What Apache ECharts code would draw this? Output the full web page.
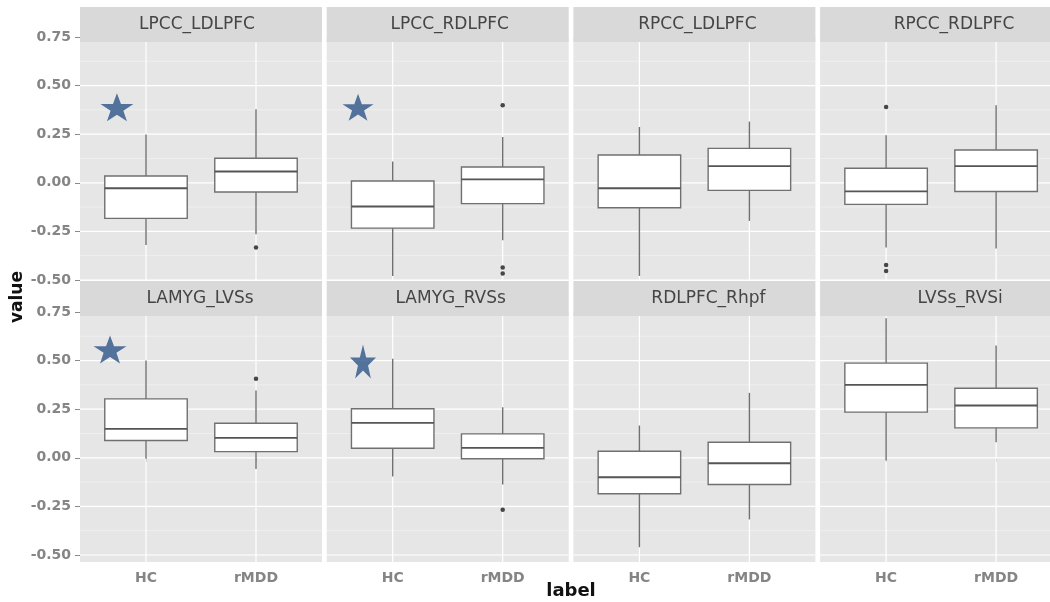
<!DOCTYPE html>
<html>
<head>
<meta charset="utf-8">
<script src="https://cdn.jsdelivr.net/npm/echarts@6/dist/echarts.min.js"></script>
<style>
html,body{margin:0;padding:0;background:#fff;}
#chart{width:1050px;height:602px;}
</style>
</head>
<body>
<div id="chart"></div>
<script>
// ---------------- data ----------------
const panels = ['LPCC_LDLPFC','LPCC_RDLPFC','RPCC_LDLPFC','RPCC_RDLPFC',
                'LAMYG_LVSs','LAMYG_RVSs','RDLPFC_Rhpf','LVSs_RVSi'];
const groups = ['HC','rMDD'];
// [lower whisker, Q1, median, Q3, upper whisker]
const hcBox = [
  [-0.320,-0.183,-0.028, 0.035, 0.249],
  [-0.479,-0.233,-0.122, 0.009, 0.109],
  [-0.479,-0.128,-0.028, 0.143, 0.287],
  [-0.333,-0.111,-0.044, 0.075, 0.244],
  [-0.005, 0.089, 0.149, 0.303, 0.500],
  [-0.096, 0.049, 0.180, 0.252, 0.509],
  [-0.460,-0.185,-0.100, 0.034, 0.166],
  [-0.014, 0.235, 0.375, 0.487, 0.718]
];
const rmddBox = [
  [-0.265,-0.047, 0.058, 0.126, 0.378],
  [-0.296,-0.107, 0.018, 0.081, 0.236],
  [-0.196,-0.039, 0.086, 0.177, 0.315],
  [-0.338,-0.045, 0.086, 0.169, 0.399],
  [-0.057, 0.032, 0.103, 0.178, 0.346],
  [-0.137,-0.005, 0.051, 0.123, 0.260],
  [-0.317,-0.137,-0.028, 0.080, 0.334],
  [ 0.080, 0.154, 0.269, 0.358, 0.578]
];
const hcOutliers   = [[], [], [], [0.390,-0.423,-0.454], [], [], [], []];
const rmddOutliers = [[-0.333], [0.399,-0.436,-0.467], [], [], [0.406], [-0.267], [], []];
// significance stars: panel index, x on the group scale (HC = 1), value
const starPanels = [0, 1, 4, 5];
const starX = [0.736, 0.685, 0.673, 0.730];
const starY = [0.388, 0.388, 0.557, 0.495];
const yTicks = [-0.5, -0.25, 0, 0.25, 0.5, 0.75];
const yMinor = [-0.375, -0.125, 0.125, 0.375, 0.625];
const yTickLabels = ['-0.50','-0.25','0.00','0.25','0.50','0.75'];

// ---------------- layout / style ----------------
const L0 = 80, STEP = 246.7, PW = 242;
const rows = [
  {top: 37,  height: 243, min: -0.5,   max: 0.75, stripY: 7,   stripH: 35},
  {top: 312, height: 250, min: -0.536, max: 0.75, stripY: 281, stripH: 35}
];
const stripDx = [[-4, 2, 3, 13], [-1, 3, 14, 19]];
const starSizes = [[33, 28], [31, 27], [33, 28], [26, 34]];
const BOX_STROKE = '#707070', MED_STROKE = '#555555';
const PANEL_BG = '#e6e6e6', STRIP_BG = '#d9d9d9';
const XMIN = 0.4, XMAX = 2.6;

const grids = [], xAxes = [], yAxes = [], series = [], graphics = [];

panels.forEach((name, i) => {
  const r = Math.floor(i / 4), c = i % 4;
  const row = rows[r];
  const left = L0 + c * STEP;
  grids.push({left: left, top: row.top, width: PW, height: row.height,
    show: true, backgroundColor: PANEL_BG, borderWidth: 0, containLabel: false,
    outerBoundsMode: 'none'});
  xAxes.push({
    type: 'value', gridIndex: i, min: XMIN, max: XMAX,
    axisLine: {show: false}, splitLine: {show: false},
    axisTick: {show: r === 1, customValues: [1, 2], length: 4,
      lineStyle: {color: '#8a8a8a', width: 1}},
    axisLabel: {show: r === 1, customValues: [1, 2], margin: 9,
      formatter: v => groups[Math.round(v) - 1] || '',
      color: '#858585', fontSize: 14, fontWeight: 'bold', fontFamily: 'DejaVu Sans'}
  });
  yAxes.push({
    type: 'value', gridIndex: i, min: row.min, max: row.max,
    axisLine: {show: false}, splitLine: {show: false},
    axisTick: {show: c === 0, customValues: yTicks, length: 5,
      lineStyle: {color: '#8a8a8a', width: 1}},
    axisLabel: {show: c === 0, customValues: yTicks, margin: 9,
      formatter: v => yTickLabels[yTicks.findIndex(t => Math.abs(t - v) < 1e-6)] || '',
      color: '#858585', fontSize: 14, fontWeight: 'bold', fontFamily: 'DejaVu Sans'}
  });

  // grid lines (panel background lines)
  const gl = yTicks.filter(v => v >= row.min && v <= row.max).map(v => [0, v])
    .concat(yMinor.filter(v => v >= row.min && v <= row.max).map(v => [1, v]))
    .concat([[2, 1], [2, 2]]);
  series.push({
    type: 'custom', xAxisIndex: i, yAxisIndex: i, z: 1, silent: true,
    data: gl, encode: {x: -1, y: -1},
    renderItem: (params, api) => {
      const kind = api.value(0), v = api.value(1);
      if (kind === 2) {
        const a = api.coord([v, row.max]), b = api.coord([v, row.min]);
        return {type: 'line', shape: {x1: a[0], y1: a[1], x2: b[0], y2: b[1]},
          style: {stroke: '#ffffff', lineWidth: 1.2}};
      }
      const a = api.coord([XMIN, v]), b = api.coord([XMAX, v]);
      return {type: 'line', shape: {x1: a[0], y1: a[1], x2: b[0], y2: b[1]},
        style: {stroke: kind === 0 ? '#ffffff' : '#f1f1f1', lineWidth: kind === 0 ? 1.2 : 0.8}};
    }
  });

  // boxes
  series.push({
    type: 'custom', xAxisIndex: i, yAxisIndex: i, z: 3, silent: true,
    data: [[1].concat(hcBox[i]), [2].concat(rmddBox[i])],
    encode: {x: 0, y: [1, 2, 3, 4, 5]},
    renderItem: (params, api) => {
      const x = api.value(0);
      const half = api.size([0.75, 0])[0] / 2;
      const lo = api.coord([x, api.value(1)]);
      const q1 = api.coord([x, api.value(2)]);
      const md = api.coord([x, api.value(3)]);
      const q3 = api.coord([x, api.value(4)]);
      const hi = api.coord([x, api.value(5)]);
      const cx = lo[0];
      return {type: 'group', children: [
        {type: 'line', shape: {x1: cx, y1: lo[1], x2: cx, y2: q1[1]}, style: {stroke: BOX_STROKE, lineWidth: 1.4}},
        {type: 'line', shape: {x1: cx, y1: q3[1], x2: cx, y2: hi[1]}, style: {stroke: BOX_STROKE, lineWidth: 1.4}},
        {type: 'rect', shape: {x: cx - half, y: q3[1], width: 2 * half, height: q1[1] - q3[1]},
          style: {fill: '#ffffff', stroke: BOX_STROKE, lineWidth: 1.4}},
        {type: 'line', shape: {x1: cx - half, y1: md[1], x2: cx + half, y2: md[1]},
          style: {stroke: MED_STROKE, lineWidth: 1.8}}
      ]};
    }
  });

  // outliers
  const out = hcOutliers[i].map(v => [1, v]).concat(rmddOutliers[i].map(v => [2, v]));
  if (out.length) {
    series.push({type: 'scatter', xAxisIndex: i, yAxisIndex: i, z: 4, silent: true,
      data: out, symbol: 'circle', symbolSize: 4.5,
      itemStyle: {color: '#1a1a1a'}});
  }

  // star
  const si = starPanels.indexOf(i);
  if (si >= 0) {
    series.push({type: 'scatter', xAxisIndex: i, yAxisIndex: i, z: 5, silent: true,
      data: [[starX[si], starY[si]]],
      symbol: 'path://M50,0 L61.8,35.1 L98.5,35.1 L68.8,56.9 L79.4,92 L50,70.4 L20.6,92 L31.2,56.9 L1.5,35.1 L38.2,35.1 Z',
      symbolSize: starSizes[si], itemStyle: {color: '#2d5488'}});
  }

  // strip
  graphics.push({type: 'rect', z: 100, silent: true,
    shape: {x: left, y: row.stripY, width: PW, height: row.stripH},
    style: {fill: STRIP_BG}});
  graphics.push({type: 'text', z: 101, silent: true,
    x: left + PW / 2 + stripDx[r][c], y: row.stripY + row.stripH / 2,
    style: {text: name, fill: '#454545', font: '17px "DejaVu Sans"',
      textAlign: 'center', textVerticalAlign: 'middle'}});
});

graphics.push({type: 'text', z: 101, silent: true, x: 18, y: 297, rotation: Math.PI / 2,
  style: {text: 'value', fill: '#111', font: 'bold 17px "DejaVu Sans"',
    textAlign: 'center', textVerticalAlign: 'middle'}});
graphics.push({type: 'text', z: 101, silent: true, x: 571, y: 591,
  style: {text: 'label', fill: '#111', font: 'bold 18px "DejaVu Sans"',
    textAlign: 'center', textVerticalAlign: 'middle'}});

const chart = echarts.init(document.getElementById('chart'), null, {renderer: 'canvas'});
chart.setOption({
  backgroundColor: '#ffffff',
  animation: false,
  grid: grids,
  xAxis: xAxes,
  yAxis: yAxes,
  series: series,
  graphic: graphics
});
</script>
</body>
</html>
